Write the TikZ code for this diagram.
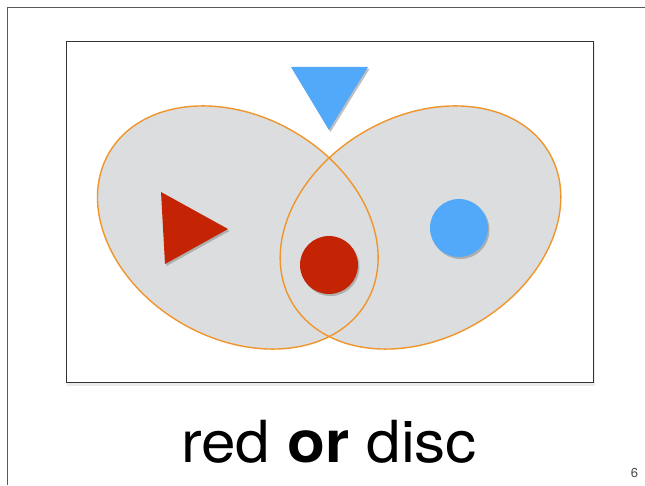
\documentclass[tikz,border=0pt]{standalone}
\usepackage{fontspec}
\setmainfont{TeX Gyre Heros}
\usetikzlibrary{shadows}
\definecolor{setgray}{HTML}{DCDDDF}
\definecolor{setorange}{HTML}{F0952C}
\definecolor{shapered}{HTML}{C52404}
\definecolor{shapeblue}{HTML}{52A8F9}
\tikzset{
  shade/.style={drop shadow={shadow xshift=1.5pt,shadow yshift=-2pt,opacity=.5}},
  setline/.style={setorange,line width=1.4pt}
}
\begin{document}
\begin{tikzpicture}[x=1pt,y=1pt]
      \useasboundingbox (0,0) rectangle (645,485);
      \fill[white] (0,0) rectangle (645,485);
      \draw[black!65,line width=1pt] (7.5,0) -- (7.5,477.5) -- (645,477.5);

      \coordinate (lc) at (237.8,257.5);
      \coordinate (rc) at (420.5,257.5);

      \fill[black!8] (67,99) rectangle (595,443);
      \fill[white] (66,103) rectangle (593,444);
      \draw[black!80,line width=.8pt] (66,103) rectangle (593,444);

      \fill[setgray,rotate around={-30:(lc)}] (lc) ellipse [x radius=148.8pt,y radius=111pt];
      \fill[setgray,rotate around={30:(rc)}] (rc) ellipse [x radius=148.8pt,y radius=111pt];
      \draw[setline,rotate around={-30:(lc)}] (lc) ellipse [x radius=148.8pt,y radius=111pt];
      \draw[setline,rotate around={30:(rc)}] (rc) ellipse [x radius=148.8pt,y radius=111pt];

      \fill[shapeblue,shade] (291,418) -- (368,418) -- (329,355) -- cycle;
      \fill[shapered,shade] (161,293) -- (228,256) -- (165,221) -- cycle;

      \node[circle,fill=shapered,minimum size=58pt,inner sep=0pt,shade] (reddisc) at (329,220) {};
      \node[circle,fill=shapeblue,minimum size=58pt,inner sep=0pt,shade] (bluedisc) at (459,257) {};

      \node[anchor=base,xscale=1.07,font=\fontsize{58}{60}\selectfont,inner sep=0pt] (caption) at (329,23) {red \textbf{or} disc};
      \node[black!70,font=\fontsize{13}{14}\selectfont,inner sep=0pt] (pagenum) at (634.5,12) {6};
    \end{tikzpicture}
\end{document}
